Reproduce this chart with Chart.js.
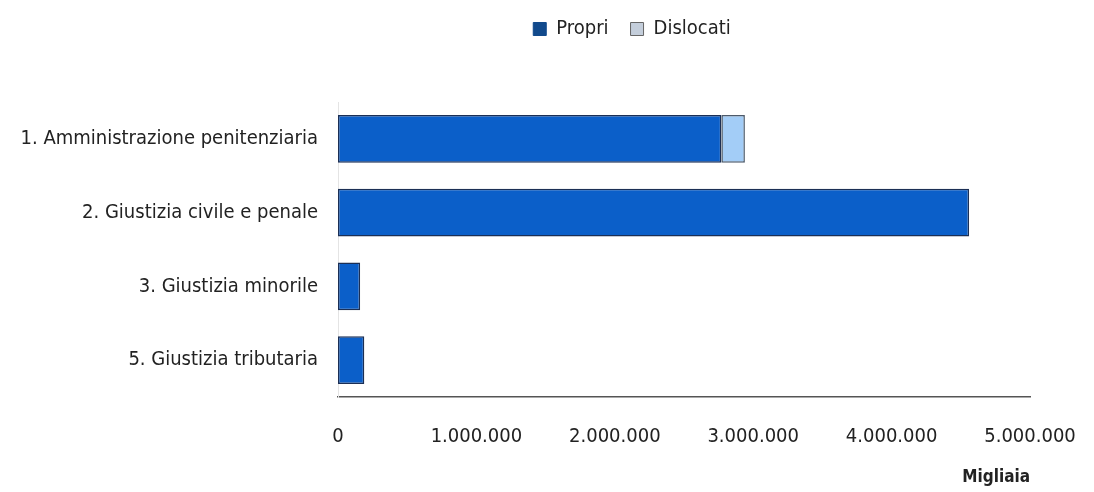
<!DOCTYPE html>
<html><head><meta charset="utf-8">
<script src="https://cdn.jsdelivr.net/npm/chart.js@4"></script>
<style>html,body{margin:0;padding:0;background:#fff}#wrap{width:1094px;height:492px}</style>
</head><body><div id="wrap"><canvas id="c" width="1094" height="492"></canvas></div>
<script>
const categories = ["1. Amministrazione penitenziaria","2. Giustizia civile e penale","3. Giustizia minorile","5. Giustizia tributaria"];
const propri = [2770000, 4560000, 160000, 190000];
const dislocati = [170000, 0, 0, 0];
const xTicks = [0, 1000000, 2000000, 3000000, 4000000, 5000000];
const seriesNames = ["Propri", "Dislocati"];
const axisTitle = "Migliaia";

const FONT = "'Liberation Sans Narrow','DejaVu Sans Condensed',sans-serif";
const fmt = v => v.toString().replace(/\B(?=(\d{3})+(?!\d))/g, ".");

const shiftPlugin = {
  id: 'shift',
  beforeInit(chart){
    const lg = chart.legend;
    const orig = lg.fit.bind(lg);
    lg.fit = function(){ orig(); this.height = 102; };
  },
  afterLayout(chart){
    const lg = chart.legend;
    lg.left += 117; lg.right += 117;
    lg.top -= 3; lg.bottom -= 3;
  }
};

new Chart(document.getElementById('c'), {
  type: 'bar',
  data: {
    labels: categories,
    datasets: [
      { label: seriesNames[0], data: propri, backgroundColor: '#0b5fc9', borderColor: '#1b2f55', borderWidth: 1.5, borderSkipped: false, barPercentage: 0.65, categoryPercentage: 1 },
      { label: seriesNames[1], data: dislocati, backgroundColor: '#a3cdf7', borderColor: '#4d5a6a', borderWidth: 1.5, borderSkipped: false, barPercentage: 0.65, categoryPercentage: 1 }
    ]
  },
  options: {
    indexAxis: 'y',
    responsive: false,
    animation: false,
    layout: { padding: { left: 0, right: 64, top: 0, bottom: 0 } },
    plugins: {
      tooltip: { enabled: false },
      legend: {
        position: 'top', align: 'center',
        labels: { boxWidth: 13, boxHeight: 13, padding: 22, color: '#222', font: { family: FONT, size: 20 },
          generateLabels(chart){
            return chart.data.datasets.map((d,i)=>({ text: d.label, fillStyle: i===0 ? '#114a8c' : '#c4cedb', strokeStyle: i===0 ? '#114a8c' : '#666', lineWidth: 1, datasetIndex: i, fontColor: '#222' }));
          }
        }
      }
    },
    scales: {
      x: {
        stacked: true, min: 0, max: 5000000,
        afterBuildTicks(axis){ axis.ticks = xTicks.map(v=>({value:v})); },
        afterFit(axis){ axis.height = 95; axis.paddingRight = 0; axis.paddingLeft = 0; },
        grid: { display: false, drawTicks: false },
        border: { display: true, color: '#555', width: 1.5 },
        ticks: { color: '#222', padding: 28, font: { family: FONT, size: 20 }, callback: v => fmt(v) },
        title: { display: true, text: axisTitle, align: 'end', color: '#222', font: { family: FONT, size: 17, weight: 'bold' }, padding: { top: 9 } }
      },
      y: {
        stacked: true,
        afterFit(axis){ axis.width = 338; },
        grid: { display: false, drawTicks: false },
        border: { display: true, color: '#e4e4e4', width: 1 },
        ticks: { color: '#222', padding: 20, font: { family: FONT, size: 20 } }
      }
    }
  },
  plugins: [shiftPlugin]
});
</script></body></html>
